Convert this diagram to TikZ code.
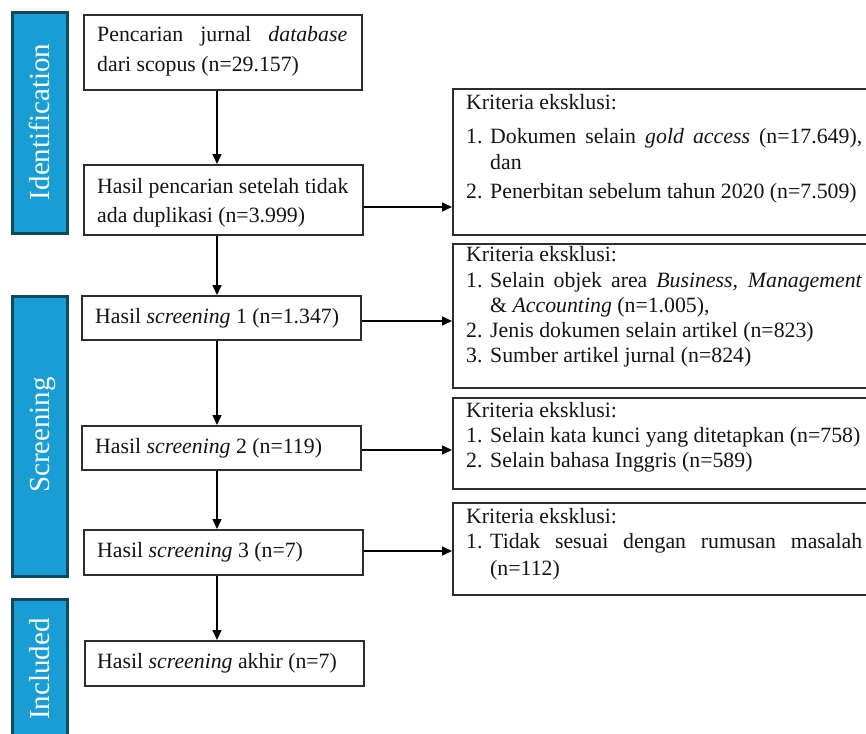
\documentclass[tikz,border=0pt]{standalone}
\usepackage{fontspec}
\setmainfont{Liberation Serif}
\usetikzlibrary{arrows.meta}
\definecolor{sidefill}{RGB}{24,158,212}
\definecolor{sidedraw}{RGB}{16,72,96}
\definecolor{boxline}{RGB}{45,45,45}
\definecolor{txt}{RGB}{20,20,20}
\begin{document}
\begin{tikzpicture}[x=1pt,y=-1pt,
 sidebox/.style={draw=sidedraw, fill=sidefill, line width=2.6pt, anchor=north west, inner sep=0, minimum width=55pt},
 sidelabel/.style={rotate=90, anchor=base, text=white, font=\fontsize{29}{32}\selectfont, inner sep=0},
 flowbox/.style={draw=boxline, line width=1.7pt, fill=white, anchor=north west, inner sep=0, minimum width=279pt},
 exbox/.style={draw=boxline, line width=1.7pt, anchor=north west, inner sep=0, minimum width=428pt},
 ln/.style={anchor=base west, inner sep=0, text=txt, font=\fontsize{21.8}{25}\selectfont},
 arr/.style={-{Triangle[length=10pt,width=9pt]}, line width=1.5pt, black}]
\useasboundingbox (0,0) rectangle (866,733);

% side phase boxes
\node[sidebox, minimum height=221pt] (sid) at (11,11) {};
\node[sidebox, minimum height=280pt] (sscr) at (11,295) {};
\node[sidebox, minimum height=150pt] (sinc) at (11,598) {};
\node[sidelabel] (lid) at (49,122) {Identification};
\node[sidelabel] (lscr) at (49,435) {Screening};
\node[sidelabel] (linc) at (49,669) {Included};

% flow boxes
\node[flowbox, minimum width=278pt, minimum height=75pt] (b1) at (83,14) {};
\node[flowbox, minimum height=70pt] (b2) at (83,164) {};
\node[flowbox, minimum height=44pt] (b3) at (81,295) {};
\node[flowbox, minimum height=44pt] (b4) at (81,425) {};
\node[flowbox, minimum height=45pt] (b5) at (83,529) {};
\node[flowbox, minimum height=45pt] (b6) at (84,640) {};

\node[ln] (b1a) at (97,42) {\makebox[250pt][s]{Pencarian jurnal \textit{database}}};
\node[ln] (b1b) at (97,72) {dari scopus (n=29.157)};
\node[ln] (b2a) at (97,193) {Hasil pencarian setelah tidak};
\node[ln] (b2b) at (97,222) {ada duplikasi (n=3.999)};
\node[ln] (b3a) at (95,323) {Hasil \textit{screening} 1 (n=1.347)};
\node[ln] (b4a) at (95,453) {Hasil \textit{screening} 2 (n=119)};
\node[ln] (b5a) at (97,557) {Hasil \textit{screening} 3 (n=7)};
\node[ln] (b6a) at (97,668) {Hasil \textit{screening} akhir (n=7)};

% exclusion boxes
\node[exbox, minimum height=146pt] (e1) at (452,88) {};
\node[exbox, minimum height=144pt] (e2) at (452,243) {};
\node[exbox, minimum height=91pt] (e3) at (452,397) {};
\node[exbox, minimum height=92pt] (e4) at (452,502) {};

\node[ln] (e1a) at (466,110) {Kriteria eksklusi:};
\node[ln] (e1n1) at (466,143) {1.};
\node[ln] (e1b) at (490,143) {\makebox[372pt][s]{Dokumen selain \textit{gold access} (n=17.649),}};
\node[ln] (e1c) at (490,169) {dan};
\node[ln] (e1n2) at (466,198) {2.};
\node[ln] (e1d) at (490,198) {Penerbitan sebelum tahun 2020 (n=7.509)};

\node[ln] (e2a) at (466,261) {Kriteria eksklusi:};
\node[ln] (e2n1) at (466,287) {1.};
\node[ln] (e2b) at (490,287) {\makebox[372pt][s]{Selain objek area \textit{Business, Management}}};
\node[ln] (e2c) at (490,312) {\& \textit{Accounting} (n=1.005),};
\node[ln] (e2n2) at (466,337) {2.};
\node[ln] (e2d) at (490,337) {Jenis dokumen selain artikel (n=823)};
\node[ln] (e2n3) at (466,362) {3.};
\node[ln] (e2e) at (490,362) {Sumber artikel jurnal (n=824)};

\node[ln] (e3a) at (466,417) {Kriteria eksklusi:};
\node[ln] (e3n1) at (466,442) {1.};
\node[ln] (e3b) at (490,442) {Selain kata kunci yang ditetapkan (n=758)};
\node[ln] (e3n2) at (466,467) {2.};
\node[ln] (e3c) at (490,467) {Selain bahasa Inggris (n=589)};

\node[ln] (e4a) at (466,523) {Kriteria eksklusi:};
\node[ln] (e4n1) at (466,548) {1.};
\node[ln] (e4b) at (490,548) {\makebox[372pt][s]{Tidak sesuai dengan rumusan masalah}};
\node[ln] (e4c) at (490,575) {(n=112)};

% connectors
\coordinate (ax) at (217,0);
\draw[arr] (b1.south -| ax) -- (b2.north -| ax);
\draw[arr] (b2.south -| ax) -- (b3.north -| ax);
\draw[arr] (b3.south -| ax) -- (b4.north -| ax);
\draw[arr] (b4.south -| ax) -- (b5.north -| ax);
\draw[arr] (b5.south -| ax) -- (b6.north -| ax);

\coordinate (y1) at (0,207);
\coordinate (y2) at (0,321);
\coordinate (y3) at (0,450);
\coordinate (y4) at (0,551);
\draw[arr] (b2.east |- y1) -- (e1.west |- y1);
\draw[arr] (b3.east |- y2) -- (e2.west |- y2);
\draw[arr] (b4.east |- y3) -- (e3.west |- y3);
\draw[arr] (b5.east |- y4) -- (e4.west |- y4);
\end{tikzpicture}
\end{document}
